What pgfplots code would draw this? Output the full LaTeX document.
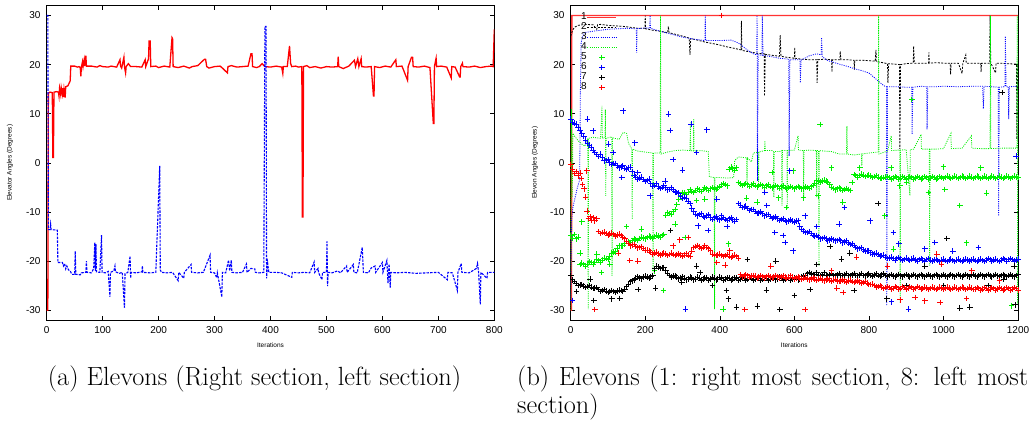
\documentclass[border=0pt]{standalone}
\usepackage{fontspec}
\usepackage{pgfplots}
\pgfplotsset{compat=1.18}
\newfontfamily\hv{Liberation Sans}
\definecolor{gpred}{RGB}{255,0,0}
\definecolor{gpgreen}{RGB}{0,240,0}
\definecolor{gpblue}{RGB}{0,0,255}

\pgfplotsset{
  gp/.style={
    scale only axis, height=314.3pt,
    ymin=-32, ymax=32, ytick={-30,-20,...,30},
    tick align=inside, major tick length=4pt,
    axis line style={line width=0.9pt},
    every tick/.style={black, line width=0.6pt},
    /pgf/number format/assume math mode=true,
    /pgf/number format/1000 sep={},
    ticklabel style={font=\hv\fontsize{10}{12}\selectfont},
    yticklabel style={xshift=-2.7pt},
    xticklabel style={yshift=-2.5pt},
    xlabel={Iterations},
    x label style={font=\hv\fontsize{6.5}{7}\selectfont, at={(axis description cs:0.5,-0.0795)}, anchor=center},
    y label style={font=\hv\fontsize{6.5}{7}\selectfont, anchor=center},
  },
  pm/.style={only marks, mark=+, mark size=2.8pt, mark options={solid, line width=0.95pt}},
}

\begin{document}
\begin{tikzpicture}
\useasboundingbox (0pt,0pt) rectangle (1031pt,421pt);

% (a) right and left section
\begin{axis}[gp, width=447.6pt, at={(46.7pt,101pt)}, anchor=south west,
  xmin=0, xmax=800, xtick={0,100,...,800},
  ylabel={Elevator Angles (Degrees)},
  y label style={at={(axis description cs:-0.082,0.5)}}]
\addplot[gpred, line width=1.3pt] coordinates {
(0,-30) (2,-30) (3,14.2) (6,14.4) (10,14.3) (11,1.1) (12,1.1) (13,14.4) (18,14.5) (21,14.4) (22,13.6) (23,15.2) (25,13.9) (26,15.3) (28,14.0) (29,15.2) (30,13.4) (31,15.0) (33,13.3) (34,15.5) (38,15.7) (40,16.2) (42,16.7) (43,19.7) (50,19.7) (55,19.5) (58,19.6) (60,19.4) (61,17.6) (62,19.5) (64,20.6) (65,19.6) (67,21.0) (68,19.7) (70,21.8) (71,19.7) (80,19.7) (90,19.5) (95,19.8) (100,19.6) (110,19.5) (115,19.7) (120,19.6) (125,19.5) (131,21.0) (132,19.7) (134,19.3) (138,21.5) (139,19.6) (141,18.3) (142,19.6) (146,20.2) (150,19.6) (160,19.6) (170,19.5) (176,21.0) (177,19.6) (182,21.2) (183,24.8) (185,24.8) (186,19.6) (195,19.7) (200,19.4) (210,19.7) (220,19.5) (224,25.5) (225,25.3) (226,19.6) (235,19.4) (245,19.7) (255,19.3) (260,19.6) (270,19.8) (282,21.1) (284,21.1) (286,19.6) (290,19.3) (300,19.6) (310,19.7) (315,19.2) (323,18.3) (324,19.6) (330,19.8) (340,19.5) (350,19.6) (360,19.7) (365,22.2) (367,22.2) (368,19.6) (375,19.4) (380,19.6) (385,20.2) (390,19.6) (400,19.5) (410,19.7) (420,19.5) (422,18.2) (423,19.6) (430,19.6) (434,23.8) (436,20.2) (438,19.6) (445,19.7) (450,19.5) (456,19.6) (457,-11.0) (458,-11.0) (459,19.6) (465,19.8) (470,19.4) (480,19.6) (490,19.3) (500,19.6) (510,19.5) (520,19.6) (521,21.6) (522,19.6) (530,19.2) (540,19.7) (550,20.9) (552,19.6) (556,21.2) (558,19.6) (562,21.2) (563,19.6) (570,19.5) (580,19.6) (584,13.6) (585,13.6) (586,19.6) (595,19.4) (605,19.7) (615,19.5) (624,21.0) (625,19.6) (635,19.7) (645,16.8) (646,19.6) (652,21.5) (654,21.5) (655,19.6) (665,19.5) (675,19.7) (685,19.4) (691,8.0) (692,8.0) (693,19.6) (696,21.3) (697,19.6) (705,19.7) (715,19.5) (723,17.3) (724,19.6) (730,19.5) (738,17.5) (739,17.5) (740,19.6) (743,20.3) (744,19.6) (755,19.5) (765,19.7) (775,19.4) (785,19.6) (795,19.7) (798,19.6) (800,27.2)
};
\addplot[gpblue, line width=1.1pt, dash pattern=on 2.5pt off 1.2pt] coordinates {
(0,30) (2,30) (3,-13.6) (6,-13.6) (7,-12.5) (8,-13.6) (19,-13.7) (20,-20.3) (28,-20.3) (30,-21.0) (32,-20.5) (34,-21.6) (36,-21.0) (39,-21.8) (42,-22.0) (45,-22.7) (50,-22.7) (51,-18.0) (52,-22.7) (60,-22.8) (62,-22.4) (70,-22.3) (71,-20.0) (72,-22.3) (80,-22.4) (84,-21.5) (86,-16.2) (87,-22.0) (88,-16.5) (89,-22.2) (95,-22.3) (98,-14.7) (99,-22.3) (105,-22.4) (110,-22.1) (113,-27.3) (114,-22.3) (120,-22.0) (122,-21.0) (123,-22.2) (130,-22.5) (135,-22.3) (139,-29.5) (140,-22.6) (145,-22.3) (149,-19.0) (150,-23.5) (151,-22.3) (160,-22.4) (170,-22.2) (171,-21.0) (172,-22.3) (185,-22.4) (195,-22.3) (202,-0.6) (203,-21.8) (205,-22.3) (215,-22.4) (225,-22.3) (235,-24.0) (236,-22.3) (245,-23.5) (246,-22.3) (258,-20.7) (259,-22.3) (270,-22.4) (280,-22.3) (292,-18.8) (293,-22.3) (300,-22.4) (304,-23.4) (305,-22.4) (313,-27.3) (314,-22.3) (320,-22.4) (325,-19.8) (327,-22.0) (330,-19.8) (331,-22.3) (340,-22.4) (350,-22.3) (357,-20.6) (358,-22.3) (365,-21.5) (372,-21.6) (373,-22.3) (380,-22.4) (388,-22.3) (390,27.8) (392,27.8) (393,-23.5) (395,-20.5) (397,-22.3) (410,-22.3) (420,-22.4) (438,-23.3) (439,-22.3) (450,-22.4) (460,-22.3) (470,-22.4) (478,-20.2) (479,-22.3) (485,-21.5) (486,-22.4) (492,-23.8) (493,-22.3) (500,-22.3) (501,-16.0) (502,-25.1) (503,-22.3) (510,-22.4) (520,-22.0) (525,-22.4) (536,-21.0) (537,-22.3) (548,-20.7) (549,-22.3) (555,-22.4) (564,-17.2) (566,-22.3) (575,-22.4) (580,-21.4) (587,-21.0) (588,-22.3) (600,-20.3) (601,-22.3) (608,-19.9) (610,-24.5) (612,-20.6) (614,-25.4) (615,-22.3) (625,-22.4) (640,-22.3) (660,-22.5) (680,-22.4) (700,-22.3) (716,-23.8) (717,-22.3) (725,-22.4) (734,-26.0) (735,-22.3) (741,-20.5) (742,-22.3) (755,-22.4) (768,-21.5) (770,-20.5) (772,-22.3) (775,-28.8) (776,-22.3) (787,-23.5) (788,-22.3) (800,-22.3)
};
\end{axis}

% (b) eight sections
\begin{axis}[gp, width=447.3pt, at={(570.7pt,101pt)}, anchor=south west,
  xmin=0, xmax=1200, xtick={0,200,...,1200},
  ylabel={Elevon Angles (Degrees)},
  y label style={at={(axis description cs:-0.0798,0.5)}},
  legend plot pos=right,
  legend image code/.code={\draw[mark repeat=2,mark phase=2,#1] plot coordinates {(0pt,0pt) (14.5pt,0pt) (29pt,0pt)};},
  legend style={at={(rel axis cs:0.016,0.985)}, anchor=north west, draw=none, fill=none,
    font=\hv\fontsize{10}{10}\selectfont, legend cell align=right,
    nodes={inner sep=0pt, text height=7.2pt, text depth=2.8pt},
    /tikz/every even column/.append style={column sep=5pt}}]
\addplot[gpred!80, line width=1.4pt] coordinates {(0,-30) (2,-30) (3,30) (1200,30)};
\addlegendentry{1}
\addplot[black, line width=0.8pt, dash pattern=on 2pt off 1.4pt] coordinates {
(0,25.8) (5,27.0) (10,27.6) (20,28.0) (40,28.2) (60,28.1) (70,27.2) (72,28.1) (80,28.2) (100,28.0) (120,27.9) (140,27.8) (160,27.6) (180,27.4) (199,27.4) (200,30) (201,27.3) (220,27.0) (240,26.8) (260,26.5) (262,27.8) (264,26.5) (280,26.2) (300,25.8) (318,25.4) (320,22.0) (322,25.3) (340,25.0) (360,24.6) (380,24.3) (400,24.0) (420,23.6) (440,23.3) (457,23.0) (458,28.9) (459,22.9) (480,22.6) (500,22.3) (519,22.2) (520,13.6) (522,22.1) (540,21.9) (560,21.7) (562,26.0) (564,21.7) (580,21.5) (600,21.3) (601,23.5) (602,21.3) (620,21.1) (640,21.0) (660,21.0) (661,16.3) (663,21.0) (680,21.1) (700,21.0) (701,18.5) (702,21.0) (722,21.0) (723,22.7) (725,21.0) (740,21.0) (760,20.9) (761,19.0) (762,20.9) (780,20.9) (800,20.8) (817,20.7) (819,23.0) (820,20.6) (830,20.5) (850,20.2) (851,16.3) (853,20.2) (870,20.1) (882,20.0) (883,2.8) (885,20.0) (900,20.2) (919,20.3) (920,23.8) (922,20.3) (940,20.3) (960,20.3) (961,22.5) (962,20.3) (980,20.4) (1000,20.3) (1018,20.3) (1019,18.0) (1021,20.3) (1040,20.3) (1050,18.2) (1052,20.3) (1060,22.0) (1061,20.3) (1080,20.3) (1100,20.3) (1101,18.5) (1102,20.3) (1124,20.3) (1125,30) (1127,20.3) (1140,18.3) (1141,20.3) (1150,20.3) (1170,20.2) (1196,20.1) (1197,4.8) (1199,20.0) (1200,20.0)
};
\addlegendentry{2}
\addplot[gpblue, line width=0.8pt, dash pattern=on 1pt off 1.2pt] coordinates {
(0,-28) (2,-12) (6,-9) (12,-7) (18,-5) (24,-3.5) (26,15) (28,24.5) (35,26.5) (60,26.8) (100,27.2) (150,27.4) (176,27.3) (177,22.4) (178,27.3) (200,27.5) (212,27.4) (213,30) (214,27.4) (240,26.8) (260,26.4) (280,26.0) (300,25.6) (330,25.2) (360,24.9) (361,30) (362,24.9) (380,24.9) (400,24.9) (430,25.0) (450,24.4) (470,23.2) (490,22.2) (499,22.0) (500,30) (501,-3.7) (503,22.0) (513,21.9) (514,30) (516,21.9) (540,21.6) (560,21.3) (585,21.1) (586,1.4) (588,21.0) (600,21.0) (615,21.0) (616,16.3) (618,20.9) (640,21.8) (660,22.2) (672,22.0) (673,25.5) (675,21.6) (690,20.8) (700,20.6) (720,20.1) (740,19.7) (760,19.2) (780,18.8) (800,18.3) (820,17.0) (840,15.7) (847,15.5) (848,-29.1) (850,15.5) (870,15.5) (900,15.4) (915,15.4) (916,5.8) (918,15.4) (940,15.6) (955,15.5) (956,6.8) (958,15.5) (980,15.5) (1000,15.6) (1040,15.5) (1080,15.6) (1105,15.6) (1107,11.0) (1109,15.6) (1130,15.5) (1147,15.4) (1148,-10.8) (1150,15.4) (1165,15.5) (1166,25.8) (1168,15.5) (1174,15.5) (1175,8.9) (1177,15.5) (1200,15.6)
};
\addlegendentry{3}
\addplot[gpgreen, line width=0.8pt, dash pattern=on 1pt off 1.2pt] coordinates {
(0,-30) (2,11) (4,-7) (6,6) (10,5.5) (20,4.5) (30,3.8) (38,3.4) (46,5.0) (47,-29.8) (48,5.0) (60,5.2) (80,5.0) (84,11.6) (85,5.0) (92,5.2) (93,10.9) (94,-6.7) (95,5.0) (110,5.3) (111,-23) (112,5.1) (130,4.8) (141,6.2) (150,6.0) (155,4.0) (164,2.8) (165,-11.5) (166,2.8) (180,2.4) (200,2.2) (220,2.0) (221,-22.3) (222,2.0) (240,2.0) (241,30) (242,1.8) (260,2.2) (280,2.5) (300,2.6) (320,2.5) (321,8.2) (322,2.5) (329,2.4) (330,9.0) (331,2.4) (350,2.5) (369,2.3) (372,-2.8) (385,-3.0) (386,-29.8) (387,-3.0) (400,-3.0) (420,-3.1) (437,-3.0) (440,0.5) (450,1.2) (472,1.0) (473,-4) (474,1.0) (485,0.2) (490,2.0) (503,2.2) (504,-4) (505,2.2) (520,2.5) (521,4.5) (522,2.5) (540,2.5) (544,2.3) (545,-7) (546,2.3) (560,2.3) (566,2.5) (567,-8.7) (568,2.5) (580,2.5) (581,-9.4) (582,2.5) (600,2.6) (610,5.5) (611,2.6) (624,2.5) (625,-7) (626,2.5) (640,2.6) (659,2.5) (660,-7) (661,2.5) (665,2.5) (666,-21) (667,2.5) (680,2.4) (700,2.3) (720,1.8) (740,1.8) (741,7.5) (742,1.8) (760,1.6) (780,1.8) (781,-0.6) (782,1.8) (800,2.0) (825,2.2) (826,30) (827,1.8) (850,2.4) (860,5.5) (861,2.5) (880,2.6) (883,2.6) (884,-28.6) (885,2.6) (900,2.7) (910,-6.7) (911,2.7) (920,2.8) (940,5.8) (941,2.8) (962,2.8) (963,-21) (964,2.8) (980,2.8) (1000,2.9) (1020,6.0) (1021,2.9) (1050,3.0) (1075,5.5) (1076,3.0) (1100,2.9) (1125,2.9) (1126,30) (1127,2.9) (1160,3.0) (1197,3.0) (1198,30) (1199,-29) (1200,3)
};
\addlegendentry{4}
\addplot[pm, gpgreen] coordinates {
(0,-14.8) (5,-15.4) (10,-14.6) (15,-15.5) (20,-15.1) (25,-20.7) (30,-20.4) (40,-21.0) (50,-20.1) (60,-20.6) (70,-19.7) (80,-20.2) (90,-19.4) (100,-19.6) (110,-18.4) (120,-18.1) (130,-16.9) (140,-16.9) (150,-16.0) (160,-16.2) (170,-15.5) (180,-15.8) (190,-15.1) (200,-15.5) (210,-14.9) (220,-15.3) (230,-14.7) (240,-15.1) (250,-14.6) (255,-10.7) (260,-10.1) (270,-10.5) (280,-9.5) (290,-7.4) (300,-6.0) (310,-6.5) (320,-5.5) (330,-6.0) (340,-5.3) (350,-5.8) (360,-5.1) (370,-5.6) (380,-5.0) (390,-5.4) (400,-4.8) (410,-4.2) (420,-4.7) (425,-1.3) (430,-0.9) (440,-1.5) (445,-1.0) (450,-4.0) (460,-4.6) (470,-4.2) (480,-4.8) (490,-4.3) (500,-4.9) (510,-4.4) (520,-5.0) (530,-4.5) (540,-5.1) (550,-4.6) (560,-5.2) (570,-4.7) (580,-5.3) (590,-4.8) (600,-5.3) (610,-4.8) (620,-5.3) (630,-4.9) (640,-5.2) (650,-4.6) (660,-3.6) (670,-3.9) (680,-3.5) (690,-3.9) (700,-5.0) (710,-5.5) (720,-5.1) (730,-5.6) (740,-5.2) (750,-5.6) (760,-2.4) (770,-2.9) (780,-2.3) (790,-2.8) (800,-2.5) (810,-3.0) (820,-2.6) (830,-3.2) (840,-3.0) (850,-2.8) (860,-3.3) (870,-2.8) (880,-3.3) (890,-2.8) (900,-3.3) (910,-2.8) (920,-3.3) (930,-2.8) (940,-3.3) (950,-2.8) (960,-3.3) (970,-2.8) (980,-3.3) (990,-2.8) (1000,-3.2) (1010,-2.7) (1020,-3.2) (1030,-2.7) (1040,-3.2) (1050,-2.7) (1060,-3.2) (1070,-2.7) (1080,-3.2) (1090,-2.7) (1100,-3.2) (1110,-2.7) (1120,-3.2) (1130,-2.7) (1140,-3.2) (1150,-2.7) (1160,-3.2) (1170,-2.7) (1180,-3.2) (1190,-2.7) (1200,-3.0)
(35,-20.7) (45,-20.6) (55,-20.3) (65,-20.2) (75,-19.9) (85,-19.8) (95,-19.5) (105,-19.0) (115,-18.2) (125,-17.5) (135,-16.9) (145,-16.5) (155,-16.1) (165,-15.8) (175,-15.6) (185,-15.4) (195,-15.3) (205,-15.2) (215,-15.1) (225,-15.0) (235,-14.9) (245,-14.8) (265,-10.3) (275,-10.0) (285,-8.5) (295,-6.7) (305,-6.2) (315,-6.0) (325,-5.8) (335,-5.6) (345,-5.5) (355,-5.4) (365,-5.3) (375,-5.3) (385,-5.2) (395,-5.1) (405,-4.5) (415,-4.4) (435,-1.2) (455,-4.3) (465,-4.4) (475,-4.5) (485,-4.5) (495,-4.6) (505,-4.6) (515,-4.7) (525,-4.7) (535,-4.8) (545,-4.8) (555,-4.9) (565,-4.9) (575,-5.0) (585,-5.0) (595,-5.0) (605,-5.0) (615,-5.0) (625,-5.1) (635,-5.0) (645,-4.9) (655,-4.1) (665,-3.7) (675,-3.7) (685,-3.7) (695,-4.4) (705,-5.2) (715,-5.3) (725,-5.3) (735,-5.4) (745,-5.4) (755,-4.0) (765,-2.6) (775,-2.6) (785,-2.5) (795,-2.6) (805,-2.7) (815,-2.8) (825,-2.9) (835,-3.1) (845,-2.9) (855,-3.0) (865,-3.1) (875,-3.0) (885,-3.1) (895,-3.0) (905,-3.1) (915,-3.0) (925,-3.1) (935,-3.0) (945,-3.1) (955,-3.0) (965,-3.1) (975,-3.0) (985,-3.1) (995,-3.0) (1005,-3.0) (1015,-2.9) (1025,-3.0) (1035,-2.9) (1045,-3.0) (1055,-2.9) (1065,-3.0) (1075,-2.9) (1085,-3.0) (1095,-2.9) (1105,-3.0) (1115,-2.9) (1125,-3.0) (1135,-2.9) (1145,-3.0) (1155,-2.9) (1165,-3.0) (1175,-2.9) (1185,-3.0) (1195,-2.9)
(25,-18.4) (70,-18.6) (83,-22.3) (105,-20.6) (119,-18.1) (249,-26) (307,-15.2) (409,-29.8) (360,-7.4) (338,-7.7) (423,-16.5) (579,-9.1) (557,-7.1) (472,-7.2) (669,7.8) (597,-1.6) (624,-7.1) (664,-6.7) (776,-1.0) (883,-4.7) (901,-3.9) (1004,-5.4) (1044,-8.7) (1062,-16.3) (1116,-6.2) (803,-11.8) (843,-10.8) (1183,-29.1) (866,-17.6) (915,12.9) (225,-22) (150,-13) (190,-13.5) (280,-12.5) (500,-8) (540,-2) (700,-1) (730,-8) (1000,-0.8) (1100,-1) (960,-6) (860,-1) (30,-12)
};
\addlegendentry{5}
\addplot[pm, gpblue] coordinates {
(0,8.9) (10,8.1) (20,7.3) (30,6.0) (40,4.6) (50,3.6) (60,2.6) (70,1.7) (80,1.8) (90,0.4) (100,0.7) (110,-0.3) (120,-0.1) (130,-1.0) (140,-0.6) (150,-1.3) (160,-0.9) (170,-2.5) (180,-3.3) (190,-2.9) (200,-3.8) (210,-3.3) (220,-4.8) (230,-4.3) (240,-5.2) (250,-4.7) (260,-5.5) (270,-5.1) (280,-5.9) (290,-6.2) (300,-7.2) (310,-7.2) (320,-8.3) (330,-10.0) (340,-10.8) (350,-10.4) (360,-11.1) (370,-10.6) (380,-11.5) (390,-11.0) (400,-11.6) (410,-11.1) (420,-11.7) (430,-11.2) (440,-11.9) (450,-8.3) (460,-9.1) (470,-8.8) (480,-9.7) (490,-9.5) (500,-10.3) (510,-10.0) (520,-10.8) (530,-10.5) (540,-11.3) (550,-11.0) (560,-11.7) (570,-11.4) (580,-12.0) (590,-11.6) (600,-12.1) (610,-11.8) (620,-13.6) (630,-14.2) (640,-14.0) (650,-14.8) (660,-14.8) (670,-15.5) (680,-15.2) (690,-15.9) (700,-15.5) (710,-15.9) (720,-15.6) (730,-16.3) (740,-15.9) (750,-16.6) (760,-16.8) (770,-17.5) (780,-17.3) (790,-18.0) (800,-17.9) (810,-18.6) (820,-18.4) (830,-19.0) (840,-18.8) (850,-19.5) (860,-19.2) (870,-19.8) (880,-19.3) (890,-19.9) (900,-19.4) (910,-19.9) (920,-19.4) (930,-20.0) (940,-19.5) (950,-20.0) (960,-19.5) (970,-20.0) (980,-19.6) (990,-20.1) (1000,-19.6) (1010,-20.1) (1020,-19.6) (1030,-20.1) (1040,-19.6) (1050,-20.1) (1060,-19.6) (1070,-20.0) (1080,-19.6) (1090,-20.1) (1100,-19.6) (1110,-20.1) (1120,-19.5) (1130,-20.0) (1140,-19.6) (1150,-20.1) (1160,-19.5) (1170,-20.0) (1180,-19.5) (1190,-20.0) (1200,-19.6)
(5,8.3) (15,7.9) (25,6.5) (35,5.4) (45,4.0) (55,3.2) (65,2.1) (75,1.3) (85,1.1) (95,0.5) (105,0.0) (115,-0.1) (125,-0.6) (135,-0.8) (145,-1.1) (155,-1.0) (165,-1.8) (175,-2.9) (185,-3.1) (195,-3.4) (205,-3.6) (215,-4.3) (225,-4.6) (235,-4.9) (245,-5.0) (255,-5.1) (265,-5.4) (275,-5.5) (285,-6.0) (295,-6.8) (305,-7.0) (315,-7.9) (325,-9.2) (335,-10.5) (345,-10.5) (355,-10.9) (365,-10.8) (375,-11.2) (385,-11.2) (395,-11.4) (405,-11.3) (415,-11.5) (425,-11.4) (435,-11.6) (445,-11.5) (455,-8.6) (465,-9.0) (475,-9.3) (485,-9.5) (495,-9.9) (505,-10.2) (515,-10.4) (525,-10.6) (535,-10.9) (545,-11.1) (555,-11.4) (565,-11.5) (575,-11.7) (585,-11.8) (595,-11.9) (605,-11.9) (615,-12.9) (625,-13.9) (635,-14.2) (645,-14.4) (655,-14.9) (665,-15.1) (675,-15.4) (685,-15.5) (695,-15.7) (705,-15.7) (715,-15.8) (725,-15.9) (735,-16.1) (745,-16.3) (755,-16.5) (765,-17.2) (775,-17.4) (785,-17.7) (795,-17.9) (805,-18.3) (815,-18.5) (825,-18.7) (835,-18.9) (845,-19.2) (855,-19.4) (865,-19.5) (875,-19.5) (885,-19.6) (895,-19.7) (905,-19.7) (915,-19.6) (925,-19.8) (935,-19.7) (945,-19.8) (955,-19.7) (965,-19.8) (975,-19.8) (985,-19.9) (995,-19.8) (1005,-19.9) (1015,-19.8) (1025,-19.9) (1035,-19.8) (1045,-19.9) (1055,-19.8) (1065,-19.8) (1075,-19.8) (1085,-19.9) (1095,-19.8) (1105,-19.9) (1115,-19.8) (1125,-19.7) (1135,-19.8) (1145,-19.9) (1155,-19.8) (1165,-19.7) (1175,-19.7) (1185,-19.7) (1195,-19.8)
(141,10.6) (262,9.9) (323,7.9) (365,6.7) (267,6.6) (101,3.8) (172,4.1) (114,2.1) (137,-3) (213,-6.7) (253,-3.7) (275,0.7) (338,2.1) (392,-7.4) (342,-12.8) (369,-13.8) (405,-10.8) (521,-6) (548,-14.2) (570,-14.8) (526,-8.7) (588,-1.6) (735,-9.1) (629,-10.8) (575,-16.2) (597,-17.9) (866,-14.2) (977,-16.2) (1094,-17.2) (906,-29.8) (861,-28.3) (803,-11.8) (308,-29.8) (5,-28) (1195,1.4) (1025,-18) (950,-17.5) (880,-16.5) (720,-12.5) (660,-13) (420,-13) (300,-1.5) (180,-2) (60,6.5) (45,8.9)
};
\addlegendentry{6}
\addplot[pm, black] coordinates {
(0,-23.0) (5,-23.8) (10,-24.2) (20,-25.0) (30,-24.8) (40,-25.4) (50,-25.0) (60,-25.6) (70,-25.4) (80,-26.2) (90,-25.8) (100,-26.4) (110,-26.0) (120,-26.4) (130,-25.9) (140,-26.2) (150,-25.2) (160,-24.2) (170,-23.8) (180,-23.2) (190,-23.6) (200,-23.1) (210,-23.5) (220,-23.0) (225,-21.6) (230,-21.0) (240,-21.5) (250,-21.3) (260,-22.5) (270,-23.3) (280,-23.0) (290,-23.6) (300,-23.2) (310,-23.8) (320,-23.3) (330,-23.8) (340,-23.3) (350,-23.9) (360,-23.4) (370,-23.9) (380,-23.3) (390,-23.8) (400,-23.3) (410,-23.9) (420,-23.4) (430,-23.9) (440,-23.4) (450,-23.9) (460,-23.4) (470,-23.9) (480,-23.3) (490,-23.9) (500,-23.4) (510,-23.9) (520,-23.4) (530,-23.9) (540,-23.4) (550,-23.8) (560,-23.3) (570,-23.9) (580,-23.4) (590,-23.9) (600,-23.4) (610,-23.8) (620,-23.2) (630,-22.9) (640,-22.3) (650,-22.7) (660,-22.4) (670,-22.9) (680,-22.4) (690,-22.9) (700,-22.5) (710,-23.0) (720,-22.5) (730,-23.0) (740,-22.5) (750,-23.0) (760,-22.5) (770,-23.0) (780,-22.5) (790,-23.0) (800,-22.6) (810,-23.1) (820,-22.6) (830,-23.1) (840,-22.6) (850,-23.2) (860,-22.7) (870,-23.2) (880,-22.7) (890,-23.2) (900,-22.7) (910,-23.2) (920,-22.7) (930,-23.2) (940,-22.7) (950,-23.2) (960,-22.7) (970,-23.2) (980,-22.7) (990,-23.2) (1000,-22.7) (1010,-23.2) (1020,-22.7) (1030,-23.2) (1040,-22.7) (1050,-23.2) (1060,-22.7) (1070,-23.2) (1080,-22.7) (1090,-23.2) (1100,-22.7) (1110,-23.2) (1120,-22.7) (1130,-23.2) (1140,-22.7) (1150,-23.2) (1160,-22.7) (1170,-23.2) (1180,-22.7) (1190,-23.2) (1200,-22.8)
(15,-24.6) (25,-24.9) (35,-25.1) (45,-25.2) (55,-25.3) (65,-25.5) (75,-25.8) (85,-26.0) (95,-26.1) (105,-26.2) (115,-26.2) (125,-26.1) (135,-26.0) (145,-25.7) (155,-24.7) (165,-24.0) (175,-23.5) (185,-23.4) (195,-23.3) (205,-23.3) (215,-23.2) (235,-21.2) (245,-21.4) (255,-22.0) (265,-22.9) (275,-23.1) (285,-23.3) (295,-23.4) (305,-23.5) (315,-23.7) (325,-23.5) (335,-23.7) (345,-23.5) (355,-23.7) (365,-23.5) (375,-23.7) (385,-23.5) (395,-23.7) (405,-23.5) (415,-23.7) (425,-23.5) (435,-23.7) (445,-23.5) (455,-23.7) (465,-23.5) (475,-23.7) (485,-23.5) (495,-23.7) (505,-23.5) (515,-23.7) (525,-23.5) (535,-23.7) (545,-23.5) (555,-23.7) (565,-23.5) (575,-23.7) (585,-23.5) (595,-23.7) (605,-23.5) (615,-23.6) (625,-23.0) (635,-22.6) (645,-22.5) (655,-22.8) (665,-22.9) (675,-22.8) (685,-22.9) (695,-22.8) (705,-22.9) (715,-22.8) (725,-22.9) (735,-22.8) (745,-22.9) (755,-22.8) (765,-22.9) (775,-22.8) (785,-22.9) (795,-22.8) (805,-22.9) (815,-22.8) (825,-22.9) (835,-22.8) (845,-22.9) (855,-22.9) (865,-23.0) (875,-22.9) (885,-23.0) (895,-22.9) (905,-23.0) (915,-22.9) (925,-23.0) (935,-22.9) (945,-23.0) (955,-22.9) (965,-23.0) (975,-22.9) (985,-23.0) (995,-22.9) (1005,-23.0) (1015,-22.9) (1025,-23.0) (1035,-22.9) (1045,-23.0) (1055,-22.9) (1065,-23.0) (1075,-22.9) (1085,-23.0) (1095,-22.9) (1105,-23.0) (1115,-22.9) (1125,-23.0) (1135,-22.9) (1145,-23.0) (1155,-22.9) (1165,-23.0) (1175,-22.9) (1185,-23.0) (1195,-22.9)
(16,-26.2) (52,-23.7) (110,-27.7) (132,-27.6) (181,-25.8) (228,-25.5) (268,-13.8) (298,-24.3) (347,-22.3) (418,-26) (423,-27.7) (445,-29.4) (474,-19.7) (501,-29.2) (525,-25.9) (561,-29.9) (338,-21) (825,-8.3) (1009,-15.4) (642,-25.8) (660,-20.7) (696,-17) (727,-19.6) (749,-18.4) (1044,-29.6) (1071,-29.4) (1161,-23.7) (1192,-28.9) (848,-27.7) (1190,-21) (1157,14.3) (1000,-25) (900,-25) (760,-26) (600,-27) (550,-20) (380,-25) (62,-28) (1120,-25) (950,-21)
};
\addlegendentry{7}
\addplot[pm, gpred] coordinates {
(0,-0.3) (5,-1.3) (10,-2.2) (15,-1.8) (20,-2.5) (25,-2.1) (28,-3.2) (32,-4.4) (36,-5.3) (40,-7.0) (44,-9.8) (48,-11.3) (52,-11.0) (56,-11.7) (60,-11.2) (65,-11.8) (70,-11.4) (75,-14.0) (80,-14.4) (90,-14.1) (100,-14.7) (110,-14.3) (120,-14.9) (130,-14.5) (140,-15.1) (150,-16.0) (160,-16.9) (170,-16.6) (180,-17.3) (190,-17.1) (200,-17.8) (210,-17.9) (220,-18.6) (230,-18.2) (240,-18.8) (250,-18.4) (260,-18.9) (270,-18.4) (280,-18.9) (290,-18.5) (300,-19.0) (310,-18.5) (320,-19.0) (330,-17.2) (340,-16.8) (350,-17.4) (360,-16.9) (370,-17.5) (380,-18.6) (390,-18.9) (400,-18.6) (410,-19.1) (420,-18.7) (430,-19.3) (440,-18.8) (450,-19.4) (455,-22.8) (460,-23.2) (470,-22.8) (480,-23.3) (490,-22.9) (500,-23.4) (510,-22.9) (520,-23.4) (530,-22.9) (540,-23.4) (550,-22.9) (560,-23.4) (570,-23.0) (580,-23.5) (590,-23.0) (600,-23.6) (610,-23.2) (620,-23.7) (630,-23.3) (640,-23.8) (650,-23.4) (660,-23.9) (670,-23.5) (680,-24.0) (690,-23.6) (700,-24.1) (710,-23.7) (720,-24.2) (730,-23.8) (740,-24.3) (750,-23.9) (760,-24.4) (770,-24.0) (780,-24.5) (790,-24.2) (800,-24.8) (810,-24.7) (820,-25.3) (830,-25.0) (840,-25.6) (850,-25.2) (860,-25.7) (870,-25.2) (880,-25.7) (890,-25.2) (900,-25.7) (910,-25.2) (920,-25.7) (930,-25.2) (940,-25.7) (950,-25.3) (960,-25.8) (970,-25.3) (980,-25.8) (990,-25.3) (1000,-25.8) (1010,-25.3) (1020,-25.8) (1030,-25.3) (1040,-25.8) (1050,-25.3) (1060,-25.8) (1070,-25.3) (1080,-25.8) (1090,-25.4) (1100,-25.9) (1110,-25.4) (1120,-25.9) (1130,-25.4) (1140,-25.9) (1150,-25.4) (1160,-25.9) (1170,-25.4) (1180,-25.9) (1190,-25.4) (1200,-25.9)
(85,-14.2) (95,-14.4) (105,-14.5) (115,-14.6) (125,-14.7) (135,-14.8) (145,-15.5) (155,-16.4) (165,-16.7) (175,-17.0) (185,-17.2) (195,-17.4) (205,-17.8) (215,-18.2) (225,-18.4) (235,-18.5) (245,-18.6) (255,-18.6) (265,-18.7) (275,-18.7) (285,-18.7) (295,-18.8) (305,-18.8) (315,-18.8) (325,-18.0) (335,-17.0) (345,-17.1) (355,-17.2) (365,-17.2) (375,-17.9) (385,-18.7) (395,-18.8) (405,-18.9) (415,-18.9) (425,-19.0) (435,-19.0) (445,-19.1) (465,-23.0) (475,-23.0) (485,-23.1) (495,-23.1) (505,-23.2) (515,-23.2) (525,-23.2) (535,-23.2) (545,-23.2) (555,-23.2) (565,-23.2) (575,-23.3) (585,-23.3) (595,-23.3) (605,-23.4) (615,-23.5) (625,-23.5) (635,-23.6) (645,-23.6) (655,-23.7) (665,-23.7) (675,-23.8) (685,-23.8) (695,-23.9) (705,-23.9) (715,-24.0) (725,-24.0) (735,-24.1) (745,-24.1) (755,-24.2) (765,-24.2) (775,-24.3) (785,-24.4) (795,-24.5) (805,-24.8) (815,-25.0) (825,-25.2) (835,-25.3) (845,-25.4) (855,-25.4) (865,-25.6) (875,-25.4) (885,-25.6) (895,-25.4) (905,-25.6) (915,-25.4) (925,-25.6) (935,-25.4) (945,-25.6) (955,-25.5) (965,-25.6) (975,-25.5) (985,-25.6) (995,-25.5) (1005,-25.6) (1015,-25.5) (1025,-25.6) (1035,-25.5) (1045,-25.6) (1055,-25.5) (1065,-25.6) (1075,-25.5) (1085,-25.7) (1095,-25.6) (1105,-25.7) (1115,-25.6) (1125,-25.7) (1135,-25.6) (1145,-25.7) (1155,-25.6) (1165,-25.7) (1175,-25.6) (1185,-25.7) (1195,-25.6)
(43,-1.6) (65,-29.9) (159,-19.9) (128,-18.4) (275,-16.9) (293,-15.7) (316,-15.2) (414,-20.8) (467,-29.9) (537,-21) (392,-20.3) (427,-17.9) (629,-29.9) (714,-25.5) (731,-26.4) (767,-19.2) (884,-27.9) (924,-27.4) (950,-28.1) (995,-20.6) (991,-28.4) (1062,-27.6) (1076,-22) (982,-18.6) (405,30) (180,-20) (700,-22) (850,-21) (1150,-24)
};
\addlegendentry{8}
\end{axis}

\node[anchor=base, inner sep=0pt, font=\fontsize{26.3}{28}\selectfont] at (254.5pt,36pt)
  {(a) Elevons (Right section, left section)};
\node[anchor=north west, inner sep=0pt, text width=511pt, align=justify,
  font=\fontsize{26.3}{26}\selectfont] at (517pt,55pt)
  {(b) Elevons (1: right most section, 8: left most section)};
\end{tikzpicture}
\end{document}
